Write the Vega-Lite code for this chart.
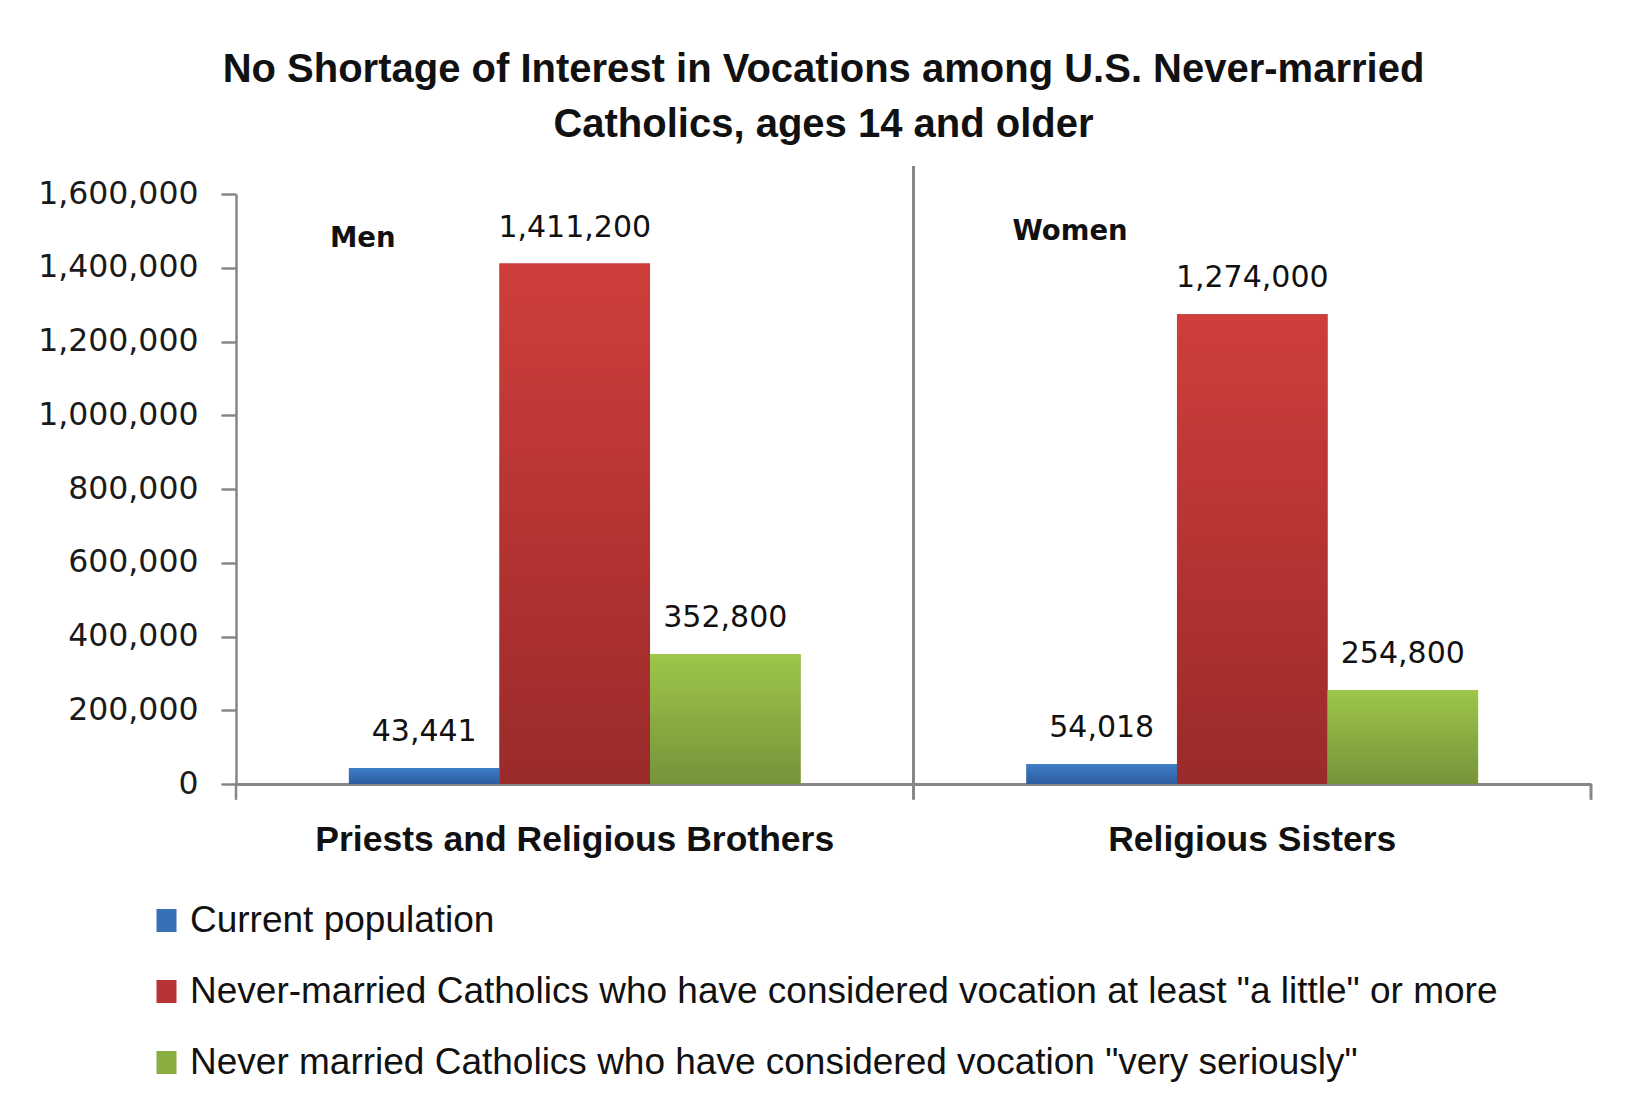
{
  "$schema": "https://vega.github.io/schema/vega-lite/v6.json",
  "autosize": {"type": "none"},
  "width": 1355,
  "height": 590,
  "padding": {"left": 236, "top": 194, "right": 36, "bottom": 328},
  "background": "white",
  "config": {
    "view": {"stroke": null},
    "font": "Liberation Sans"
  },
  "title": {
    "text": ["No Shortage of Interest in Vocations among U.S. Never-married", "Catholics, ages 14 and older"],
    "font": "Liberation Sans",
    "fontWeight": "bold",
    "fontSize": 40,
    "lineHeight": 55,
    "color": "#111111",
    "anchor": "middle",
    "frame": "group",
    "dx": -90,
    "offset": 19
  },
  "data": {
    "values": [
      {"category": "Priests and Religious Brothers", "series": "Current population", "value": 43441},
      {"category": "Priests and Religious Brothers", "series": "Never-married Catholics who have considered vocation at least \"a little\" or more", "value": 1411200},
      {"category": "Priests and Religious Brothers", "series": "Never married Catholics who have considered vocation \"very seriously\"", "value": 352800},
      {"category": "Religious Sisters", "series": "Current population", "value": 54018},
      {"category": "Religious Sisters", "series": "Never-married Catholics who have considered vocation at least \"a little\" or more", "value": 1274000},
      {"category": "Religious Sisters", "series": "Never married Catholics who have considered vocation \"very seriously\"", "value": 254800}
    ]
  },
  "layer": [
    {
      "mark": {"type": "bar"},
      "encoding": {
        "x": {
          "field": "category", "type": "nominal", "sort": null,
          "scale": {"paddingInner": 0, "paddingOuter": 0},
          "axis": {
            "title": null, "labelAngle": 0, "ticks": false, "tickSize": 0, "labelLimit": 1200,
            "labelPadding": 66, "labelBaseline": "alphabetic",
            "labelFont": "Liberation Sans", "labelFontWeight": "bold", "labelFontSize": 35.5, "labelColor": "#111111",
            "domainColor": "#878787", "domainWidth": 3
          }
        },
        "xOffset": {
          "field": "series", "type": "nominal", "sort": null,
          "scale": {
            "domain": ["Current population", "Never-married Catholics who have considered vocation at least \"a little\" or more", "Never married Catholics who have considered vocation \"very seriously\""],
            "paddingOuter": 0.75, "paddingInner": 0
          }
        },
        "y": {
          "field": "value", "type": "quantitative",
          "scale": {"domain": [0, 1600000], "nice": false},
          "axis": {
            "title": null, "grid": false, "values": [0, 200000, 400000, 600000, 800000, 1000000, 1200000, 1400000, 1600000],
            "format": ",", "labelExpr": "format(datum.value, ',')",
            "labelFont": "DejaVu Sans", "labelFontSize": 31.5, "labelColor": "#1a1a1a",
            "labelPadding": 23, "tickSize": 15, "tickColor": "#878787", "tickWidth": 2.5,
            "domainColor": "#878787", "domainWidth": 2.5
          }
        },
        "color": {
          "field": "series", "type": "nominal",
          "scale": {
            "domain": ["Current population", "Never-married Catholics who have considered vocation at least \"a little\" or more", "Never married Catholics who have considered vocation \"very seriously\""],
            "range": ["#3670b5", "#b83434", "#8aad42"]
          },
          "legend": {
            "title": null, "orient": "none", "legendX": -88, "legendY": 708, "direction": "vertical",
            "padding": 0, "rowPadding": 33, "labelFont": "Liberation Sans", "labelFontSize": 37, "labelColor": "#111111",
            "labelOffset": 5, "labelLimit": 2000,
            "symbolType": "M-0.87,-1H0.87V1H-0.87Z", "symbolSize": 529, "symbolStrokeWidth": 0, "symbolOpacity": 1
          }
        }
      }
    },
    {
      "transform": [{"filter": {"field": "series", "equal": "Current population"}}],
      "mark": {"type": "bar", "color": {"gradient": "linear", "x1": 0, "y1": 0, "x2": 0, "y2": 1, "stops": [{"offset": 0, "color": "#3f7ec9"}, {"offset": 1, "color": "#2c5c9c"}]}},
      "encoding": {
        "x": {"field": "category", "type": "nominal", "sort": null},
        "xOffset": {"field": "series", "type": "nominal", "sort": null},
        "y": {"field": "value", "type": "quantitative"}
      }
    },
    {
      "transform": [{"filter": {"field": "series", "equal": "Never-married Catholics who have considered vocation at least \"a little\" or more"}}],
      "mark": {"type": "bar", "color": {"gradient": "linear", "x1": 0, "y1": 0, "x2": 0, "y2": 1, "stops": [{"offset": 0, "color": "#cf3e3b"}, {"offset": 1, "color": "#9a2a2a"}]}},
      "encoding": {
        "x": {"field": "category", "type": "nominal", "sort": null},
        "xOffset": {"field": "series", "type": "nominal", "sort": null},
        "y": {"field": "value", "type": "quantitative"}
      }
    },
    {
      "transform": [{"filter": {"field": "series", "equal": "Never married Catholics who have considered vocation \"very seriously\""}}],
      "mark": {"type": "bar", "color": {"gradient": "linear", "x1": 0, "y1": 0, "x2": 0, "y2": 1, "stops": [{"offset": 0, "color": "#9dc64a"}, {"offset": 1, "color": "#76933a"}]}},
      "encoding": {
        "x": {"field": "category", "type": "nominal", "sort": null},
        "xOffset": {"field": "series", "type": "nominal", "sort": null},
        "y": {"field": "value", "type": "quantitative"}
      }
    },
    {
      "mark": {"type": "text", "font": "DejaVu Sans", "fontSize": 30, "color": "#111111", "baseline": "alphabetic", "dy": -27},
      "encoding": {
        "x": {"field": "category", "type": "nominal", "sort": null},
        "xOffset": {"field": "series", "type": "nominal", "sort": null},
        "y": {"field": "value", "type": "quantitative"},
        "text": {"field": "value", "type": "quantitative", "format": ","}
      }
    },
    {
      "data": {"values": [{}]},
      "mark": {"type": "rule", "color": "#878787", "strokeWidth": 3},
      "encoding": {
        "x": {"datum": "Religious Sisters", "type": "nominal", "bandPosition": 0},
        "y": {"datum": 1676000, "type": "quantitative"},
        "y2": {"datum": -43000}
      }
    },
    {
      "data": {"values": [{}]},
      "mark": {"type": "rule", "color": "#878787", "strokeWidth": 2.5},
      "encoding": {
        "x": {"datum": "Priests and Religious Brothers", "type": "nominal", "bandPosition": 0},
        "y": {"datum": 0, "type": "quantitative"},
        "y2": {"datum": -43000}
      }
    },
    {
      "data": {"values": [{}]},
      "mark": {"type": "rule", "color": "#878787", "strokeWidth": 3},
      "encoding": {
        "x": {"datum": "Religious Sisters", "type": "nominal", "bandPosition": 1},
        "y": {"datum": 0, "type": "quantitative"},
        "y2": {"datum": -43000}
      }
    },
    {
      "data": {"values": [{}]},
      "mark": {"type": "text", "font": "DejaVu Sans", "fontWeight": "bold", "fontSize": 27.5, "color": "#111111", "align": "left", "baseline": "alphabetic", "dx": 94},
      "encoding": {
        "x": {"datum": "Priests and Religious Brothers", "type": "nominal", "bandPosition": 0},
        "y": {"datum": 1456000, "type": "quantitative"},
        "text": {"value": "Men"}
      }
    },
    {
      "data": {"values": [{}]},
      "mark": {"type": "text", "font": "DejaVu Sans", "fontWeight": "bold", "fontSize": 27.5, "color": "#111111", "align": "left", "baseline": "alphabetic", "dx": 99},
      "encoding": {
        "x": {"datum": "Religious Sisters", "type": "nominal", "bandPosition": 0},
        "y": {"datum": 1475000, "type": "quantitative"},
        "text": {"value": "Women"}
      }
    }
  ]
}
